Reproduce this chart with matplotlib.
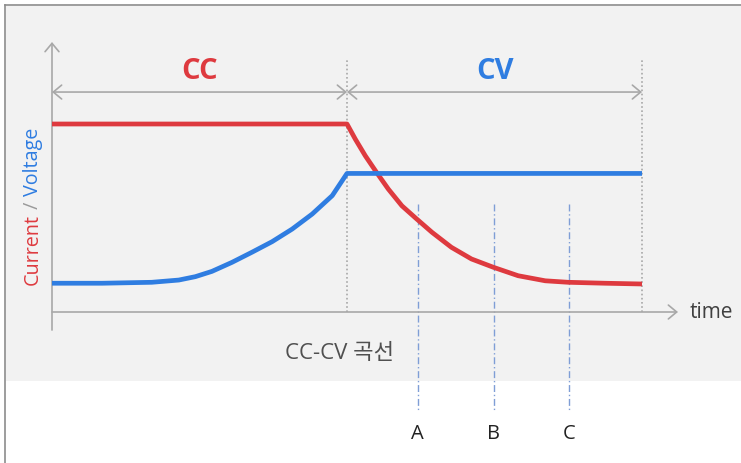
import matplotlib
matplotlib.use("Agg")
import matplotlib.pyplot as plt
from matplotlib.patches import Rectangle
from matplotlib.lines import Line2D

plt.rcParams['font.family'] = ['Open Sans', 'Noto Sans CJK KR', 'DejaVu Sans']

# ---- data (time units, arbitrary amplitude units) ----
current_t = [0.0, 5.0, 5.14, 5.31, 5.50, 5.70, 5.93, 6.18, 6.44, 6.77, 7.11, 7.48,
             7.90, 8.36, 8.75, 9.37, 10.0]
current_v = [10.0, 10.0, 9.20, 8.31, 7.43, 6.54, 5.65, 4.95, 4.24, 3.44, 2.82, 2.38,
             1.93, 1.66, 1.58, 1.53, 1.49]
voltage_t = [0.0, 0.85, 1.69, 2.15, 2.43, 2.71, 3.05, 3.39, 3.73, 4.07, 4.41, 4.75,
             5.0, 10.0]
voltage_v = [1.53, 1.53, 1.58, 1.70, 1.88, 2.16, 2.64, 3.18, 3.74, 4.41, 5.21, 6.19,
             7.37, 7.37]
phase_labels = ["CC", "CV"]
phase_bounds = [0.0, 5.0, 10.0]
marker_t = [6.2, 7.49, 8.76]
marker_labels = ["A", "B", "C"]
title_text = "CC-CV 곡선"
x_label = "time"
y_label_parts = ["Current", " / ", "Voltage"]

RED = "#DE3A3F"
BLUE = "#2F7DE1"
GRAY = "#A8A8A8"

W, H = 741, 464
fig = plt.figure(figsize=(W / 100, H / 100), dpi=100)
fig.patch.set_facecolor("white")

ax = fig.add_axes([0, 0, 1, 1])
ax.patch.set_alpha(0)
ax.set_xlim(-52 / 59, (W - 52) / 59)
ax.set_ylim((313 - H) / 18.8, 313 / 18.8)
ax.axis("off")

# background panel and frame
ax.add_patch(Rectangle((6 / W, 1 - 382 / H), 1 - 6 / W, (382 - 7) / H,
                       transform=fig.transFigure, facecolor="#F2F2F2",
                       edgecolor="none", zorder=-10, clip_on=False))
ax.add_line(Line2D([5 / W, 1], [1 - 6 / H, 1 - 6 / H], transform=fig.transFigure,
                   color="#8C8C8C", lw=1.2, zorder=-5, clip_on=False))
ax.add_line(Line2D([5 / W, 5 / W], [0, 1 - 6 / H], transform=fig.transFigure,
                   color="#8C8C8C", lw=1.2, zorder=-5, clip_on=False))

arrow_kw = dict(arrowstyle="->,head_length=0.6,head_width=0.5", color=GRAY, lw=1.2,
                shrinkA=0, shrinkB=0, mutation_scale=10)
dbl_kw = dict(arrow_kw, arrowstyle="<->,head_length=0.6,head_width=0.5")

# axes with arrows
ax.annotate("", xy=(0, 14.36), xytext=(0, -0.96), arrowprops=arrow_kw)
ax.annotate("", xy=(10.61, 0), xytext=(0, 0), arrowprops=arrow_kw)

# phase boundaries
for b in phase_bounds[1:]:
    ax.plot([b, b], [0, 13.46], color=GRAY, lw=1.2, ls=(0, (1, 1.5)))

# phase span arrows and labels
for i, (lab, col) in enumerate(zip(phase_labels, [RED, BLUE])):
    a, b = phase_bounds[i], phase_bounds[i + 1]
    ax.annotate("", xy=(b, 11.70), xytext=(a, 11.70), arrowprops=dbl_kw)
    ax.text((a + b) / 2, 12.85, lab, color=col, fontsize=21, fontweight="bold",
            ha="center", va="center")

# marker lines
for t, lab in zip(marker_t, marker_labels):
    ax.plot([t, t], [5.74, -5.27], color="#7F9ED6", lw=1.0, ls=(0, (5, 2, 1, 2)))
    ax.text(t, -6.44, lab, color="#222222", fontsize=14.5, ha="center", va="center")

# curves
ax.plot(current_t, current_v, color=RED, lw=3.4, solid_capstyle="butt",
        solid_joinstyle="round", zorder=5)
ax.plot(voltage_t, voltage_v, color=BLUE, lw=3.4, solid_capstyle="butt",
        solid_joinstyle="round", zorder=6)

# texts
ax.text(4.88, -2.18, title_text, color="#505050", fontsize=16, ha="center", va="center")
ax.text(10.81, 0, x_label, color="#404040", fontsize=15, ha="left", va="center")

# multi-coloured rotated y label
fig.canvas.draw()
renderer = fig.canvas.get_renderer()
cols = [RED, "#9A9A9A", BLUE]
y_px = 285  # bottom start in pixels from top
for part, col in zip(y_label_parts, cols):
    yy = (313 - y_px) / 18.8
    t = ax.text(-0.32, yy, part, color=col, fontsize=14.2, rotation=90,
                ha="center", va="bottom", rotation_mode="default")
    bb = t.get_window_extent(renderer)
    y_px -= bb.height

fig.savefig("out.png", dpi=100, facecolor="white")
